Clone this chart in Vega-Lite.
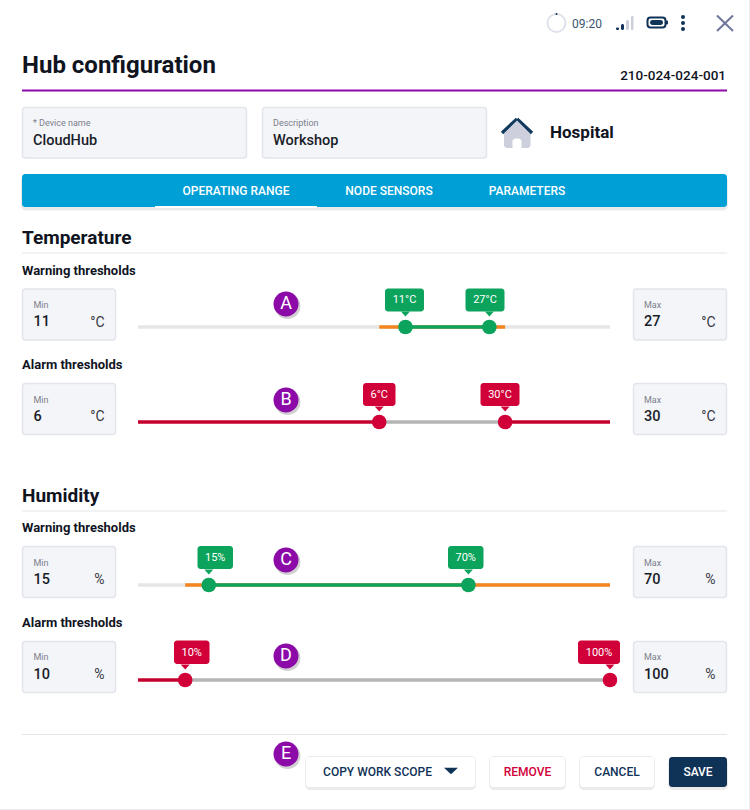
{
  "$schema": "https://vega.github.io/schema/vega-lite/v6.json",
  "width": 750,
  "height": 810,
  "padding": 0,
  "autosize": {"type": "none"},
  "background": "#ffffff",
  "view": {"stroke": null},
  "datasets": {
    "boxes": [
      {"part": "tabs", "x": 22, "x2": 727, "y": 174, "y2": 207},
      {"part": "button", "x": 306, "x2": 475, "y": 757, "y2": 787},
      {"part": "button", "x": 490, "x2": 565, "y": 757, "y2": 787},
      {"part": "button", "x": 580, "x2": 654, "y": 757, "y2": 787},
      {"part": "save", "x": 669, "x2": 727, "y": 757, "y2": 787},
      {"part": "tip warning", "x": 385, "x2": 424, "y": 288.5, "y2": 311.5},
      {"part": "tip warning", "x": 465.5, "x2": 504.5, "y": 288.5, "y2": 311.5},
      {"part": "tip alarm", "x": 363, "x2": 395.5, "y": 383, "y2": 406},
      {"part": "tip alarm", "x": 480.5, "x2": 519.5, "y": 383, "y2": 406},
      {"part": "tip warning", "x": 197.5, "x2": 233, "y": 546, "y2": 569},
      {"part": "tip warning", "x": 448, "x2": 483.5, "y": 546, "y2": 569},
      {"part": "tip alarm", "x": 174, "x2": 209.5, "y": 640.5, "y2": 664},
      {"part": "tip alarm", "x": 578, "x2": 620, "y": 640.5, "y2": 664},
      {"part": "house", "x": 504, "x2": 530.5, "y": 131, "y2": 148},
      {"part": "door", "x": 512.5, "x2": 521.5, "y": 138.5, "y2": 150},
      {"part": "battery fill", "x": 650, "x2": 663, "y": 20, "y2": 25},
      {"part": "battery nub", "x": 666, "x2": 668, "y": 20.5, "y2": 24.5},
      {"part": "signal on", "x": 616, "x2": 619, "y": 27.5, "y2": 30},
      {"part": "signal on", "x": 621, "x2": 624, "y": 24, "y2": 30},
      {"part": "signal off", "x": 626, "x2": 629, "y": 20, "y2": 30},
      {"part": "signal off", "x": 631, "x2": 633.5, "y": 16, "y2": 30}
    ],
    "fields": [
      {"x": 22.5, "x2": 246.5, "y": 107.5, "y2": 158},
      {"x": 262.5, "x2": 486.5, "y": 107.5, "y2": 158},
      {"x": 22.5, "x2": 115.5, "y": 289, "y2": 340},
      {"x": 633.5, "x2": 726.5, "y": 289, "y2": 340},
      {"x": 22.5, "x2": 115.5, "y": 383.5, "y2": 434.5},
      {"x": 633.5, "x2": 726.5, "y": 383.5, "y2": 434.5},
      {"x": 22.5, "x2": 115.5, "y": 546.5, "y2": 597.5},
      {"x": 633.5, "x2": 726.5, "y": 546.5, "y2": 597.5},
      {"x": 22.5, "x2": 115.5, "y": 641.5, "y2": 692.5},
      {"x": 633.5, "x2": 726.5, "y": 641.5, "y2": 692.5}
    ],
    "shadows": [
      {"x": 21, "x2": 728, "y": 176, "y2": 210.5},
      {"x": 305, "x2": 476, "y": 756, "y2": 790},
      {"x": 489, "x2": 566, "y": 756, "y2": 790},
      {"x": 579, "x2": 655, "y": 756, "y2": 790},
      {"x": 668, "x2": 728, "y": 759, "y2": 790}
    ],
    "lines": [
      {"part": "header", "x": 22, "x2": 727, "y": 90.5, "y2": 90.5},
      {"part": "divider", "x": 22, "x2": 727, "y": 253, "y2": 253},
      {"part": "divider", "x": 22, "x2": 727, "y": 511, "y2": 511},
      {"part": "divider", "x": 22, "x2": 727, "y": 734.5, "y2": 734.5},
      {"part": "edge", "x": 749.5, "x2": 749.5, "y": 0, "y2": 810},
      {"part": "edge", "x": 0, "x2": 750, "y": 809.5, "y2": 809.5},
      {"part": "active tab", "x": 155, "x2": 317, "y": 207, "y2": 207},
      {"part": "close", "x": 717, "x2": 733, "y": 15.5, "y2": 31},
      {"part": "close", "x": 733, "x2": 717, "y": 15.5, "y2": 31},
      {"part": "roof", "x": 502, "x2": 517, "y": 133, "y2": 119},
      {"part": "roof", "x": 517, "x2": 532, "y": 119, "y2": 133}
    ],
    "markers": [
      {"letter": "A", "x": 286, "y": 304},
      {"letter": "B", "x": 286, "y": 400},
      {"letter": "C", "x": 286, "y": 560},
      {"letter": "D", "x": 286, "y": 656},
      {"letter": "E", "x": 286, "y": 754}
    ],
    "texts": [
      {"role": "title", "text": "Hub configuration", "x": 22, "y": 66},
      {"role": "serial", "text": "210-024-024-001", "x": 726, "y": 76},
      {"role": "caption", "text": "* Device name", "x": 33, "y": 123},
      {"role": "caption", "text": "Description", "x": 273, "y": 123},
      {"role": "value", "text": "CloudHub", "x": 33, "y": 140.5},
      {"role": "value", "text": "Workshop", "x": 273, "y": 140.5},
      {"role": "place", "text": "Hospital", "x": 550, "y": 132.5},
      {"role": "time", "text": "09:20", "x": 572, "y": 23.5},
      {"role": "tab", "text": "OPERATING RANGE", "x": 236, "y": 191},
      {"role": "tab", "text": "NODE SENSORS", "x": 389, "y": 191},
      {"role": "tab", "text": "PARAMETERS", "x": 527, "y": 191},
      {"role": "section", "text": "Temperature", "x": 22, "y": 238},
      {"role": "section", "text": "Humidity", "x": 22, "y": 496},
      {"role": "group", "text": "Warning thresholds", "x": 22, "y": 270.5},
      {"role": "group", "text": "Alarm thresholds", "x": 22, "y": 365},
      {"role": "group", "text": "Warning thresholds", "x": 22, "y": 528},
      {"role": "group", "text": "Alarm thresholds", "x": 22, "y": 622.5},
      {"role": "caption", "text": "Min", "x": 33.5, "y": 305},
      {"role": "caption", "text": "Max", "x": 644, "y": 305},
      {"role": "caption", "text": "Min", "x": 33.5, "y": 399.5},
      {"role": "caption", "text": "Max", "x": 644, "y": 399.5},
      {"role": "caption", "text": "Min", "x": 33.5, "y": 563},
      {"role": "caption", "text": "Max", "x": 644, "y": 563},
      {"role": "caption", "text": "Min", "x": 33.5, "y": 657},
      {"role": "caption", "text": "Max", "x": 644, "y": 657},
      {"role": "value", "text": "11", "x": 33.5, "y": 322},
      {"role": "value", "text": "27", "x": 644, "y": 322},
      {"role": "value", "text": "6", "x": 33.5, "y": 417},
      {"role": "value", "text": "30", "x": 644, "y": 417},
      {"role": "value", "text": "15", "x": 33.5, "y": 580},
      {"role": "value", "text": "70", "x": 644, "y": 580},
      {"role": "value", "text": "10", "x": 33.5, "y": 674.5},
      {"role": "value", "text": "100", "x": 644, "y": 674.5},
      {"role": "unit", "text": "°C", "x": 104.5, "y": 322.5},
      {"role": "unit", "text": "°C", "x": 715.5, "y": 322.5},
      {"role": "unit", "text": "°C", "x": 104.5, "y": 417},
      {"role": "unit", "text": "°C", "x": 715.5, "y": 417},
      {"role": "unit", "text": "%", "x": 104.5, "y": 580},
      {"role": "unit", "text": "%", "x": 715.5, "y": 580},
      {"role": "unit", "text": "%", "x": 104.5, "y": 674.5},
      {"role": "unit", "text": "%", "x": 715.5, "y": 674.5},
      {"role": "tip", "text": "11°C", "x": 404.5, "y": 300},
      {"role": "tip", "text": "27°C", "x": 485, "y": 300},
      {"role": "tip", "text": "6°C", "x": 379.2, "y": 394.5},
      {"role": "tip", "text": "30°C", "x": 500, "y": 394.5},
      {"role": "tip", "text": "15%", "x": 215.2, "y": 557.5},
      {"role": "tip", "text": "70%", "x": 465.7, "y": 557.5},
      {"role": "tip", "text": "10%", "x": 191.7, "y": 652.5},
      {"role": "tip", "text": "100%", "x": 599, "y": 652.5},
      {"role": "action", "text": "COPY WORK SCOPE", "x": 377.5, "y": 772},
      {"role": "action", "text": "CANCEL", "x": 617, "y": 772},
      {"role": "remove", "text": "REMOVE", "x": 527.5, "y": 772},
      {"role": "save", "text": "SAVE", "x": 698, "y": 772}
    ],
    "symbols": [
      {"part": "dot", "x": 683, "y": 17},
      {"part": "dot", "x": 683, "y": 23},
      {"part": "dot", "x": 683, "y": 29},
      {"part": "dot small", "x": 556.5, "y": 14}
    ],
    "temperatureBands": [
      {"slider": "Temperature warning", "part": "track", "from": -40, "to": 50},
      {"slider": "Temperature warning", "part": "warning band", "from": 6, "to": 30},
      {"slider": "Temperature warning", "part": "safe band", "from": 11, "to": 27},
      {"slider": "Temperature alarm", "part": "alarm band", "from": -40, "to": 6},
      {"slider": "Temperature alarm", "part": "alarm band", "from": 30, "to": 50},
      {"slider": "Temperature alarm", "part": "normal band", "from": 6, "to": 30}
    ],
    "temperatureHandles": [
      {"slider": "Temperature warning", "threshold": "Warning", "value": 11},
      {"slider": "Temperature warning", "threshold": "Warning", "value": 27},
      {"slider": "Temperature alarm", "threshold": "Alarm", "value": 6},
      {"slider": "Temperature alarm", "threshold": "Alarm", "value": 30}
    ],
    "humidityBands": [
      {"slider": "Humidity warning", "part": "track", "from": 0, "to": 100},
      {"slider": "Humidity warning", "part": "warning band", "from": 10, "to": 100},
      {"slider": "Humidity warning", "part": "safe band", "from": 15, "to": 70},
      {"slider": "Humidity alarm", "part": "alarm band", "from": 0, "to": 10},
      {"slider": "Humidity alarm", "part": "normal band", "from": 10, "to": 100}
    ],
    "humidityHandles": [
      {"slider": "Humidity warning", "threshold": "Warning", "value": 15},
      {"slider": "Humidity warning", "threshold": "Warning", "value": 70},
      {"slider": "Humidity alarm", "threshold": "Alarm", "value": 10},
      {"slider": "Humidity alarm", "threshold": "Alarm", "value": 100}
    ]
  },
  "resolve": {"scale": {"x": "independent", "y": "independent", "fill": "independent", "stroke": "independent"}},
  "layer": [
    {
      "encoding": {
        "x": {"field": "x", "type": "quantitative", "axis": null, "scale": {"domain": [0, 750], "nice": false, "zero": false}},
        "y": {"field": "y", "type": "quantitative", "axis": null, "scale": {"domain": [810, 0], "nice": false, "zero": false}}
      },
      "layer": [
        {
          "data": {"name": "shadows"},
          "mark": {"type": "rect", "cornerRadius": 5, "color": "#000000", "opacity": 0.08},
          "encoding": {"x2": {"field": "x2"}, "y2": {"field": "y2"}}
        },
        {
          "data": {"name": "fields"},
          "mark": {"type": "rect", "cornerRadius": 3, "color": "#f4f5f9", "stroke": "#e3e5ec", "strokeWidth": 1.5},
          "encoding": {"x2": {"field": "x2"}, "y2": {"field": "y2"}}
        },
        {
          "data": {"name": "boxes"},
          "mark": {"type": "rect", "cornerRadius": 3},
          "encoding": {
            "x2": {"field": "x2"},
            "y2": {"field": "y2"},
            "fill": {
              "field": "part",
              "type": "nominal",
              "legend": null,
              "scale": {
                "domain": ["tabs", "button", "save", "tip warning", "tip alarm", "house", "door", "battery fill", "battery nub", "signal on", "signal off"],
                "range": ["#009fd6", "#ffffff", "#0f3257", "#0ca45c", "#d10038", "#cdd0dc", "#ffffff", "#0f3257", "#0f3257", "#0f3257", "#ccd0da"]
              }
            }
          }
        },
        {
          "data": {"name": "lines"},
          "mark": {"type": "rule", "strokeCap": "butt"},
          "encoding": {
            "x2": {"field": "x2"},
            "y2": {"field": "y2"},
            "stroke": {
              "field": "part",
              "type": "nominal",
              "legend": null,
              "scale": {
                "domain": ["header", "divider", "edge", "active tab", "close", "roof"],
                "range": ["#8c0aa8", "#e4e5e9", "#eceef2", "#ffffff", "#70769a", "#123a5e"]
              }
            },
            "strokeWidth": {
              "field": "part",
              "type": "nominal",
              "legend": null,
              "scale": {
                "type": "ordinal",
                "domain": ["header", "divider", "edge", "active tab", "close", "roof"],
                "range": [2, 1.2, 1, 2, 2, 3.5]
              }
            }
          }
        },
        {
          "data": {"values": [{"x": 517, "y": 127}]},
          "mark": {"type": "point", "filled": true, "opacity": 1, "shape": "M-1,0.5L1,0.5L0,-0.5Z", "size": 676, "color": "#cdd0dc"}
        },
        {
          "data": {"values": [{"x": 451, "y": 771}]},
          "mark": {"type": "point", "filled": true, "opacity": 1, "shape": "M-1,-0.45L1,-0.45L0,0.45Z", "size": 196, "color": "#0f3257"}
        },
        {
          "data": {"values": [{"x": 556.5, "y": 23}]},
          "mark": {"type": "point", "filled": false, "opacity": 1, "shape": "circle", "size": 324, "stroke": "#dfe2ec", "strokeWidth": 2}
        },
        {
          "data": {"name": "symbols"},
          "transform": [{"filter": "datum.part === 'dot'"}],
          "mark": {"type": "point", "filled": true, "opacity": 1, "shape": "circle", "size": 16, "color": "#0f3257"}
        },
        {
          "data": {"name": "symbols"},
          "transform": [{"filter": "datum.part === 'dot small'"}],
          "mark": {"type": "point", "filled": true, "opacity": 1, "shape": "circle", "size": 4, "color": "#0f3257"}
        },
        {
          "data": {"values": [{"x": 647.5, "x2": 665.5, "y": 17.5, "y2": 27.5}]},
          "mark": {"type": "rect", "cornerRadius": 3, "fillOpacity": 0, "stroke": "#0f3257", "strokeWidth": 2},
          "encoding": {"x2": {"field": "x2"}, "y2": {"field": "y2"}}
        },
        {
          "data": {"name": "markers"},
          "mark": {"type": "point", "filled": true, "opacity": 0.18, "shape": "circle", "size": 670, "color": "#000000", "xOffset": 1.5, "yOffset": 2}
        },
        {
          "data": {"name": "markers"},
          "mark": {"type": "point", "filled": true, "opacity": 1, "shape": "circle", "size": 625, "color": "#8c0aa8"}
        },
        {
          "data": {"name": "markers"},
          "mark": {"type": "text", "font": "Roboto", "fontSize": 18, "color": "#ffffff", "baseline": "middle", "align": "center"},
          "encoding": {"text": {"field": "letter"}}
        },
        {
          "data": {"name": "texts"},
          "transform": [{"filter": "datum.role === 'title'"}],
          "mark": {"type": "text", "font": "Roboto", "fontWeight": "bold", "fontSize": 24, "color": "#10141f", "align": "left", "baseline": "middle"},
          "encoding": {"text": {"field": "text"}}
        },
        {
          "data": {"name": "texts"},
          "transform": [{"filter": "datum.role === 'serial'"}],
          "mark": {"type": "text", "font": "Roboto", "fontWeight": 500, "fontSize": 13.5, "color": "#10141f", "align": "right", "baseline": "middle"},
          "encoding": {"text": {"field": "text"}}
        },
        {
          "data": {"name": "texts"},
          "transform": [{"filter": "datum.role === 'caption'"}],
          "mark": {"type": "text", "font": "Roboto", "fontSize": 9, "color": "#7b7f8a", "align": "left", "baseline": "middle"},
          "encoding": {"text": {"field": "text"}}
        },
        {
          "data": {"name": "texts"},
          "transform": [{"filter": "datum.role === 'value'"}],
          "mark": {"type": "text", "font": "Roboto", "fontWeight": 500, "fontSize": 14.5, "color": "#1a1d29", "align": "left", "baseline": "middle"},
          "encoding": {"text": {"field": "text"}}
        },
        {
          "data": {"name": "texts"},
          "transform": [{"filter": "datum.role === 'unit'"}],
          "mark": {"type": "text", "font": "Roboto", "fontSize": 14, "color": "#343844", "align": "right", "baseline": "middle"},
          "encoding": {"text": {"field": "text"}}
        },
        {
          "data": {"name": "texts"},
          "transform": [{"filter": "datum.role === 'place'"}],
          "mark": {"type": "text", "font": "Roboto", "fontWeight": "bold", "fontSize": 17, "color": "#10141f", "align": "left", "baseline": "middle"},
          "encoding": {"text": {"field": "text"}}
        },
        {
          "data": {"name": "texts"},
          "transform": [{"filter": "datum.role === 'time'"}],
          "mark": {"type": "text", "font": "Roboto", "fontSize": 12, "color": "#3a5570", "align": "left", "baseline": "middle"},
          "encoding": {"text": {"field": "text"}}
        },
        {
          "data": {"name": "texts"},
          "transform": [{"filter": "datum.role === 'tab'"}],
          "mark": {"type": "text", "font": "Roboto", "fontWeight": 500, "fontSize": 12, "color": "#ffffff", "align": "center", "baseline": "middle"},
          "encoding": {"text": {"field": "text"}}
        },
        {
          "data": {"name": "texts"},
          "transform": [{"filter": "datum.role === 'section'"}],
          "mark": {"type": "text", "font": "Roboto", "fontWeight": "bold", "fontSize": 19, "color": "#10141f", "align": "left", "baseline": "middle"},
          "encoding": {"text": {"field": "text"}}
        },
        {
          "data": {"name": "texts"},
          "transform": [{"filter": "datum.role === 'group'"}],
          "mark": {"type": "text", "font": "Roboto", "fontWeight": "bold", "fontSize": 13, "color": "#10141f", "align": "left", "baseline": "middle"},
          "encoding": {"text": {"field": "text"}}
        },
        {
          "data": {"name": "texts"},
          "transform": [{"filter": "datum.role === 'tip'"}],
          "mark": {"type": "text", "font": "Roboto", "fontSize": 11, "color": "#ffffff", "align": "center", "baseline": "middle"},
          "encoding": {"text": {"field": "text"}}
        },
        {
          "data": {"name": "texts"},
          "transform": [{"filter": "datum.role === 'action'"}],
          "mark": {"type": "text", "font": "Roboto", "fontWeight": 500, "fontSize": 12, "color": "#0f3257", "align": "center", "baseline": "middle"},
          "encoding": {"text": {"field": "text"}}
        },
        {
          "data": {"name": "texts"},
          "transform": [{"filter": "datum.role === 'remove'"}],
          "mark": {"type": "text", "font": "Roboto", "fontWeight": 500, "fontSize": 12, "color": "#d10038", "align": "center", "baseline": "middle"},
          "encoding": {"text": {"field": "text"}}
        },
        {
          "data": {"name": "texts"},
          "transform": [{"filter": "datum.role === 'save'"}],
          "mark": {"type": "text", "font": "Roboto", "fontWeight": 500, "fontSize": 12, "color": "#ffffff", "align": "center", "baseline": "middle"},
          "encoding": {"text": {"field": "text"}}
        }
      ]
    },
    {
      "layer": [
        {
          "data": {"name": "temperatureBands"},
          "mark": {"type": "rule", "strokeWidth": 3.5, "strokeCap": "butt"},
          "encoding": {
            "x": {"field": "from", "type": "quantitative", "axis": null, "scale": {"domain": [-40, 50], "range": [138, 610], "nice": false, "zero": false}},
            "x2": {"field": "to"},
            "y": {"field": "slider", "type": "nominal", "axis": null, "scale": {"type": "point", "domain": ["Temperature warning", "Temperature alarm"], "range": [327, 422], "padding": 0, "paddingOuter": 0}},
            "stroke": {
              "field": "part",
              "type": "nominal",
              "legend": null,
              "scale": {
                "domain": ["track", "warning band", "safe band", "alarm band", "normal band"],
                "range": ["#e6e6e6", "#f5851f", "#0ca45c", "#c4002e", "#b5b5b5"]
              }
            }
          }
        },
        {
          "data": {"name": "temperatureHandles"},
          "mark": {"type": "point", "filled": true, "opacity": 1, "shape": "circle", "size": 213},
          "encoding": {
            "x": {"field": "value", "type": "quantitative"},
            "y": {"field": "slider", "type": "nominal"},
            "fill": {"field": "threshold", "type": "nominal", "legend": null, "scale": {"domain": ["Warning", "Alarm"], "range": ["#0ca45c", "#d10038"]}}
          }
        },
        {
          "data": {"name": "temperatureHandles"},
          "mark": {"type": "point", "filled": true, "opacity": 1, "shape": "M-1,-0.55L1,-0.55L0,0.55Z", "size": 81, "yOffset": -13},
          "encoding": {
            "x": {"field": "value", "type": "quantitative"},
            "y": {"field": "slider", "type": "nominal"},
            "fill": {"field": "threshold", "type": "nominal", "legend": null, "scale": {"domain": ["Warning", "Alarm"], "range": ["#0ca45c", "#d10038"]}}
          }
        }
      ]
    },
    {
      "layer": [
        {
          "data": {"name": "humidityBands"},
          "mark": {"type": "rule", "strokeWidth": 3.5, "strokeCap": "butt"},
          "encoding": {
            "x": {"field": "from", "type": "quantitative", "axis": null, "scale": {"domain": [0, 100], "range": [138, 610], "nice": false, "zero": false}},
            "x2": {"field": "to"},
            "y": {"field": "slider", "type": "nominal", "axis": null, "scale": {"type": "point", "domain": ["Humidity warning", "Humidity alarm"], "range": [585, 680], "padding": 0, "paddingOuter": 0}},
            "stroke": {
              "field": "part",
              "type": "nominal",
              "legend": null,
              "scale": {
                "domain": ["track", "warning band", "safe band", "alarm band", "normal band"],
                "range": ["#e6e6e6", "#f5851f", "#0ca45c", "#c4002e", "#b5b5b5"]
              }
            }
          }
        },
        {
          "data": {"name": "humidityHandles"},
          "mark": {"type": "point", "filled": true, "opacity": 1, "shape": "circle", "size": 213},
          "encoding": {
            "x": {"field": "value", "type": "quantitative"},
            "y": {"field": "slider", "type": "nominal"},
            "fill": {"field": "threshold", "type": "nominal", "legend": null, "scale": {"domain": ["Warning", "Alarm"], "range": ["#0ca45c", "#d10038"]}}
          }
        },
        {
          "data": {"name": "humidityHandles"},
          "mark": {"type": "point", "filled": true, "opacity": 1, "shape": "M-1,-0.55L1,-0.55L0,0.55Z", "size": 81, "yOffset": -13},
          "encoding": {
            "x": {"field": "value", "type": "quantitative"},
            "y": {"field": "slider", "type": "nominal"},
            "fill": {"field": "threshold", "type": "nominal", "legend": null, "scale": {"domain": ["Warning", "Alarm"], "range": ["#0ca45c", "#d10038"]}}
          }
        }
      ]
    }
  ]
}
